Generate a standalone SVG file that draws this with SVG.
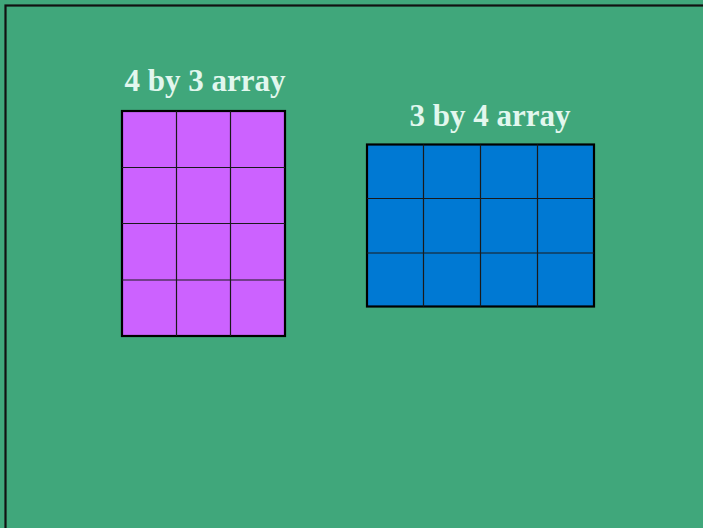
<svg xmlns="http://www.w3.org/2000/svg" width="703" height="528" viewBox="0 0 703 528">
<style>
.lbl{font-family:"Liberation Serif","Times New Roman",serif;font-weight:bold;font-size:31px;fill:#e2f7ee;text-anchor:middle}
.outer{stroke:#000;stroke-width:2.2}
.grid{stroke:#1a1a1a;stroke-width:1.2;fill:none}
</style>
<rect x="0" y="0" width="703" height="528" fill="#40a77b"/>
<rect x="5.5" y="5.5" width="720" height="540" fill="#40a77b" stroke="#111" stroke-width="2.2"/>
<g id="array-4x3">
<text class="lbl" x="205" y="91">4 by 3 array</text>
<rect class="outer" x="122" y="111" width="163" height="225" fill="#cc62ff"/>
<path class="grid" d="M176.5 111V336M230.5 111V336M122 167.5H285M122 223.5H285M122 280H285"/>
</g>
<g id="array-3x4">
<text class="lbl" x="490" y="126">3 by 4 array</text>
<rect class="outer" x="367" y="144.5" width="227" height="162" fill="#0079d3"/>
<path class="grid" d="M423.5 144.5V306.5M480.5 144.5V306.5M537.5 144.5V306.5M367 198.5H594M367 253H594"/>
</g>
</svg>
